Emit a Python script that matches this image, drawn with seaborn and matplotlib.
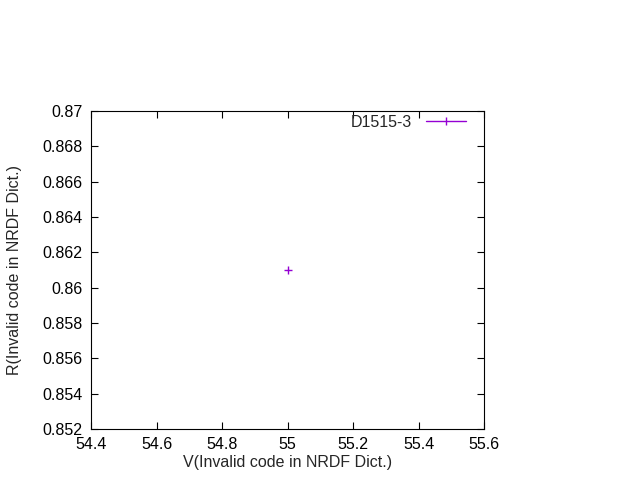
import matplotlib
matplotlib.use('Agg')
import matplotlib.pyplot as plt
import seaborn as sns
import numpy as np
import pandas as pd
from matplotlib.lines import Line2D
from matplotlib.ticker import FuncFormatter

# ── data ────────────────────────────────────────────────────
series_name = 'D1515-3'
v_values = [55.0]
r_values = [0.861]
x_ticks = [54.4, 54.6, 54.8, 55.0, 55.2, 55.4, 55.6]
y_ticks = [0.852, 0.854, 0.856, 0.858, 0.860, 0.862, 0.864, 0.866, 0.868, 0.870]

df = pd.DataFrame({'V': v_values, 'R': r_values})

sns.set_style('ticks')
plt.rcParams['font.family'] = ['Liberation Sans', 'DejaVu Sans']
fs = 11.5

color = '#9400d3'

fig = plt.figure(figsize=(6.4, 4.8), dpi=100)
ax = fig.add_axes([91/640, 1 - 429/480, (484 - 91)/640, (429 - 111)/480])

sns.scatterplot(data=df, x='V', y='R', marker='+', color=color, s=40,
                linewidth=1, ax=ax, legend=False)

ax.set_xlim(54.4, 55.6)
ax.set_ylim(0.852, 0.870)
ax.set_xticks(x_ticks)
ax.set_yticks(y_ticks)
ax.xaxis.set_major_formatter(FuncFormatter(lambda v, p: f'{round(v, 1):g}'))
ax.yaxis.set_major_formatter(FuncFormatter(lambda v, p: f'{round(v, 3):g}'))
ax.tick_params(direction='in', top=True, right=True, length=5, width=0.8,
               labelsize=fs, colors='black', pad=6)
for s in ax.spines.values():
    s.set_visible(True)
    s.set_linewidth(0.8)
    s.set_color('black')

ax.set_xlabel('V(Invalid code in NRDF Dict.)', fontsize=fs, labelpad=2)
ax.set_ylabel('R(Invalid code in NRDF Dict.)', fontsize=fs, labelpad=15)

handle = Line2D([0], [0], color=color, lw=1, marker='|', markersize=6,
                markeredgewidth=1)
ax.legend([handle], [series_name], loc='upper right', frameon=False,
          markerfirst=False, handlelength=2.5, fontsize=fs,
          borderaxespad=0.0, borderpad=0.25, handletextpad=0.85,
          bbox_to_anchor=(1 - 14/393, 1.0))

plt.savefig('out.png', dpi=100)
